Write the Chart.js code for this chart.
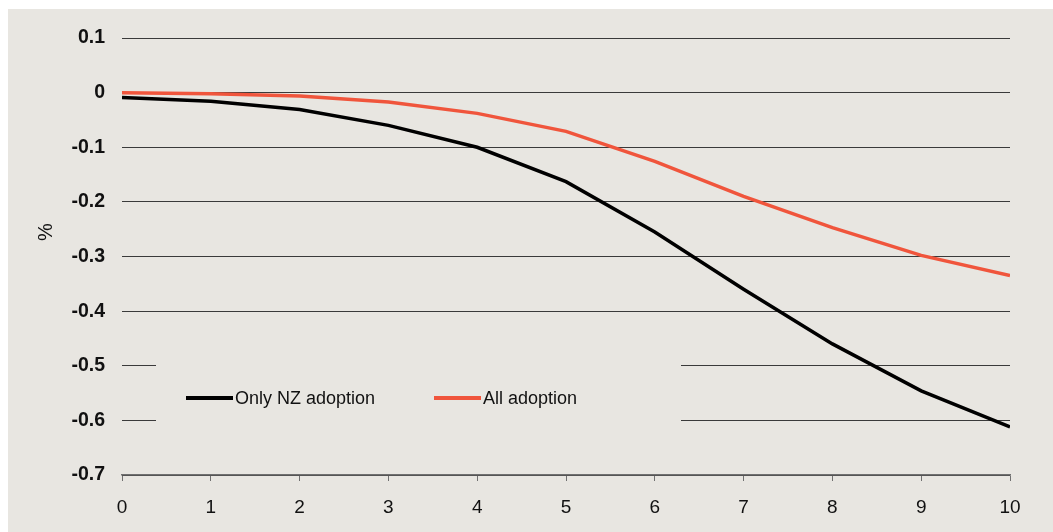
<!DOCTYPE html>
<html>
<head>
<meta charset="utf-8">
<script src="https://cdn.jsdelivr.net/npm/chart.js@4"></script>
<style>
  body { margin: 0; background: #ffffff; }
  #wrap { position: absolute; left: 8px; top: 9px; width: 1045px; height: 523px; background: #e8e6e1; }
</style>
</head>
<body>
<div id="wrap"><canvas id="chart" width="1045" height="523"></canvas></div>
<script>
const years = [0, 1, 2, 3, 4, 5, 6, 7, 8, 9, 10];
const onlyNZ = [-0.009, -0.016, -0.031, -0.060, -0.100, -0.163, -0.255, -0.360, -0.460, -0.546, -0.612];
const allAdoption = [0.000, -0.002, -0.006, -0.017, -0.038, -0.071, -0.126, -0.190, -0.247, -0.298, -0.335];
const seriesNames = ['Only NZ adoption', 'All adoption'];
const seriesColors = ['#000000', '#f0553c'];

const toPoints = vals => vals.map((v, i) => ({ x: years[i], y: v }));

// legend sits inside the plot and blanks the gridlines behind it
const insideLegend = {
  id: 'insideLegend',
  beforeDatasetsDraw(chart) {
    const ctx = chart.ctx;
    const a = chart.chartArea;
    ctx.save();
    ctx.fillStyle = '#e8e6e1';
    ctx.fillRect(a.left + 34, a.top + 300, 525, 100);
    ctx.font = '18px "Liberation Sans", Arial, sans-serif';
    ctx.textBaseline = 'middle';
    const slots = [a.left + 64, a.left + 312];
    chart.data.datasets.forEach((ds, i) => {
      const x = slots[i], y = a.top + 360;
      ctx.strokeStyle = ds.borderColor;
      ctx.lineWidth = 4;
      ctx.beginPath();
      ctx.moveTo(x, y);
      ctx.lineTo(x + 47, y);
      ctx.stroke();
      ctx.fillStyle = '#111';
      ctx.fillText(ds.label, x + 49, y + 1);
    });
    // y axis unit
    ctx.font = '20px "Liberation Sans", Arial, sans-serif';
    ctx.translate(38, 223);
    ctx.rotate(-Math.PI / 2);
    ctx.textAlign = 'center';
    ctx.fillText('%', 0, 0);
    ctx.restore();
  }
};

new Chart(document.getElementById('chart'), {
  type: 'line',
  data: {
    datasets: [
      { label: seriesNames[0], data: toPoints(onlyNZ), borderColor: seriesColors[0], borderWidth: 3.5, pointRadius: 0, tension: 0 },
      { label: seriesNames[1], data: toPoints(allAdoption), borderColor: seriesColors[1], borderWidth: 3.5, pointRadius: 0, tension: 0 }
    ]
  },
  options: {
    responsive: false,
    animation: false,
    layout: { padding: { top: 29, right: 43, left: 0, bottom: 0 } },
    plugins: { legend: { display: false }, tooltip: { enabled: false } },
    scales: {
      x: {
        type: 'linear', min: 0, max: 10,
        afterFit(s) { s.height = 57; },
        grid: { drawOnChartArea: false, drawTicks: true, tickLength: 6, color: '#707070' },
        border: { color: '#707070', width: 1.5 },
        ticks: { stepSize: 1, padding: 15, color: '#111', font: { family: '"Liberation Sans", Arial, sans-serif', size: 19 } }
      },
      y: {
        min: -0.7, max: 0.1,
        afterFit(s) { s.width = 114; },
        grid: { drawTicks: false, color: '#3a3a3a', lineWidth: 1 },
        border: { display: false },
        ticks: {
          stepSize: 0.1, padding: 17, color: '#111',
          font: { family: '"Liberation Sans", Arial, sans-serif', size: 19.5, weight: 'bold' },
          callback: v => String(Math.round(v * 10) / 10)
        }
      }
    }
  },
  plugins: [insideLegend]
});
</script>
</body>
</html>
